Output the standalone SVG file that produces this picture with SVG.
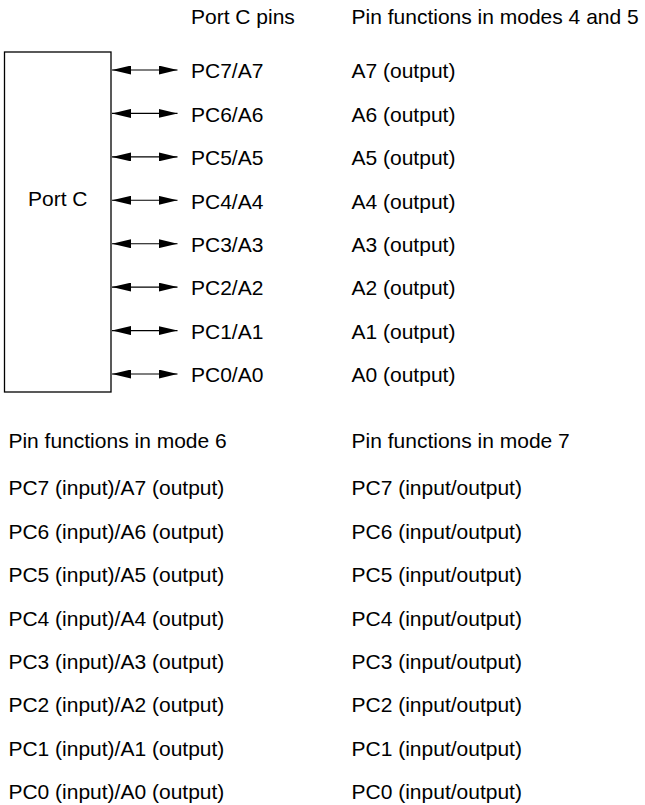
<svg xmlns="http://www.w3.org/2000/svg" width="645" height="805" viewBox="0 0 645 805">
<defs>
<style>
text{font-family:"Liberation Sans",Arial,sans-serif;font-size:21px;fill:#000}
.box{fill:#fff;stroke:#000;stroke-width:1.3}
.conn{stroke:#000;stroke-width:1.1;fill:none;marker-start:url(#ah);marker-end:url(#ah)}
</style>
<marker id="ah" viewBox="0 0 19 9" markerWidth="19" markerHeight="9" refX="19" refY="4.5" markerUnits="userSpaceOnUse" orient="auto-start-reverse">
<polygon points="0,0 19,4.5 0,9" fill="#000"/>
</marker>
</defs>
<rect width="645" height="805" fill="#fff"/>
<g id="headers">
<text x="191" y="24">Port C pins</text>
<text x="351.5" y="24">Pin functions in modes 4 and 5</text>
</g>
<g id="portC">
<rect class="box" x="4.5" y="52" width="106.5" height="340"/>
<text x="57.75" y="205.5" text-anchor="middle">Port C</text>
</g>
<g id="connectors">
<line class="conn" x1="112" y1="70" x2="177.5" y2="70"/>
<line class="conn" x1="112" y1="113.4" x2="177.5" y2="113.4"/>
<line class="conn" x1="112" y1="156.9" x2="177.5" y2="156.9"/>
<line class="conn" x1="112" y1="200.3" x2="177.5" y2="200.3"/>
<line class="conn" x1="112" y1="243.7" x2="177.5" y2="243.7"/>
<line class="conn" x1="112" y1="287.1" x2="177.5" y2="287.1"/>
<line class="conn" x1="112" y1="330.6" x2="177.5" y2="330.6"/>
<line class="conn" x1="112" y1="374" x2="177.5" y2="374"/>
</g>
<g id="pins">
<text x="191" y="78.3">PC7/A7</text>
<text x="191" y="121.7">PC6/A6</text>
<text x="191" y="165.2">PC5/A5</text>
<text x="191" y="208.6">PC4/A4</text>
<text x="191" y="252">PC3/A3</text>
<text x="191" y="295.4">PC2/A2</text>
<text x="191" y="338.9">PC1/A1</text>
<text x="191" y="382.3">PC0/A0</text>
</g>
<g id="modes45">
<text x="351.5" y="78.3">A7 (output)</text>
<text x="351.5" y="121.7">A6 (output)</text>
<text x="351.5" y="165.2">A5 (output)</text>
<text x="351.5" y="208.6">A4 (output)</text>
<text x="351.5" y="252">A3 (output)</text>
<text x="351.5" y="295.4">A2 (output)</text>
<text x="351.5" y="338.9">A1 (output)</text>
<text x="351.5" y="382.3">A0 (output)</text>
</g>
<g id="mode6">
<text x="8.4" y="448.3">Pin functions in mode 6</text>
<text x="8.4" y="495.3">PC7 (input)/A7 (output)</text>
<text x="8.4" y="538.7">PC6 (input)/A6 (output)</text>
<text x="8.4" y="582.2">PC5 (input)/A5 (output)</text>
<text x="8.4" y="625.6">PC4 (input)/A4 (output)</text>
<text x="8.4" y="669">PC3 (input)/A3 (output)</text>
<text x="8.4" y="712.4">PC2 (input)/A2 (output)</text>
<text x="8.4" y="755.9">PC1 (input)/A1 (output)</text>
<text x="8.4" y="799.3">PC0 (input)/A0 (output)</text>
</g>
<g id="mode7">
<text x="351.5" y="448.3">Pin functions in mode 7</text>
<text x="351.5" y="495.3">PC7 (input/output)</text>
<text x="351.5" y="538.7">PC6 (input/output)</text>
<text x="351.5" y="582.2">PC5 (input/output)</text>
<text x="351.5" y="625.6">PC4 (input/output)</text>
<text x="351.5" y="669">PC3 (input/output)</text>
<text x="351.5" y="712.4">PC2 (input/output)</text>
<text x="351.5" y="755.9">PC1 (input/output)</text>
<text x="351.5" y="799.3">PC0 (input/output)</text>
</g>
</svg>
